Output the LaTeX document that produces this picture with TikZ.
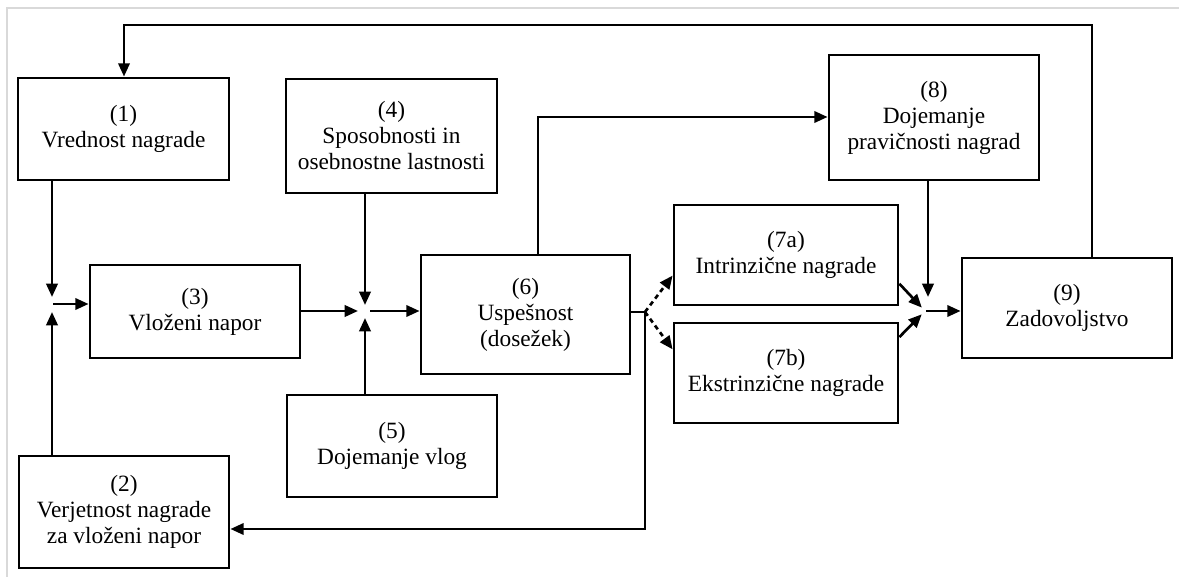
\documentclass[tikz,border=0pt]{standalone}
\usepackage{fontspec}
\setmainfont{Liberation Serif}
\usetikzlibrary{arrows.meta,calc}
\begin{document}
\begin{tikzpicture}[x=0.75pt,y=-0.75pt,
  every node/.style={font=\fontsize{17.5pt}{19.5pt}\selectfont},
  box/.style 2 args={draw, line width=2.1pt, align=center, inner sep=0pt,
    minimum width=#1*0.75pt, minimum height=#2*0.75pt},
  conn/.style={line width=2pt},
  arr/.style={conn, -{Triangle[length=10pt,width=8.5pt]}},
  dsh/.style={arr, dash pattern=on 3.5pt off 2.8pt}]
\useasboundingbox (0,0) rectangle (1179,577);
\draw[black!15, line width=1.5pt] (7,577) -- (7,8) -- (1179,8);

\node[box={211}{102}] (b1) at (123.5,129) {(1)\\Vrednost nagrade};
\node[box={210}{112}] (b2) at (124,512) {(2)\\Verjetnost nagrade\\za vloženi napor};
\node[box={210}{93}] (b3) at (195,311.5) {(3)\\Vloženi napor};
\node[box={211}{114}] (b4) at (391.5,136) {(4)\\Sposobnosti in\\osebnostne lastnosti};
\node[box={210}{102}] (b5) at (392,446) {(5)\\Dojemanje vlog};
\node[box={209}{119}] (b6) at (525.5,314.5) {(6)\\Uspešnost\\(dosežek)};
\node[box={224}{100}] (b7a) at (786,255) {(7a)\\Intrinzične nagrade};
\node[box={224}{100}] (b7b) at (786,373) {(7b)\\Ekstrinzične nagrade};
\node[box={210}{125}] (b8) at (934,117.5) {(8)\\Dojemanje\\pravičnosti nagrad};
\node[box={210}{100}] (b9) at (1067,308) {(9)\\Zadovoljstvo};

\coordinate (c1) at (1092,25);
\coordinate (c2) at (124,25);
\coordinate (j1) at (52,304);
\coordinate (j2) at (365,311);
\coordinate (j3) at (925,311);
\coordinate (k6) at (538,117);
\coordinate (s) at (645,312);
\coordinate (s2) at (645,529);
\coordinate (k8) at (928,297);

% feedback loop from (9) to (1)
\draw[arr] (b9.north -| c1) -- (c1) -- (c2) -- (c2 |- b1.north);

% junction 1
\draw[arr, shorten >=5.25pt] (b1.south -| j1) -- (j1);
\draw[arr, shorten >=6pt] (b2.north -| j1) -- (j1);
\draw[arr, shorten <=1pt] (j1) -- (j1 -| b3.west);

% junction 2
\draw[arr, shorten >=5.25pt] (b3.east |- j2) -- (j2);
\draw[arr, shorten >=4.5pt] (b4.south -| j2) -- (j2);
\draw[arr, shorten >=5.25pt] (b5.north -| j2) -- (j2);
\draw[arr, shorten <=3.75pt] (j2) -- (j2 -| b6.west);

% (6) to (8)
\draw[arr] (b6.north -| k6) -- (k6) -- (k6 -| b8.west);

% (6) to (2)
\draw[arr] (s -| b6.east) -- (s) -- (s2) -- (s2 -| b2.east);

% (6) to (7a), (7b)
\draw[dsh] (s) -- ($(b7a.south west)!0.3!(b7a.north west)$);
\draw[dsh] (s) -- ($(b7b.north west)!0.27!(b7b.south west)$);

% junction 3
\draw[arr] (b8.south -| k8) -- (k8);
\draw[arr, shorten >=3.5pt] ($(b7a.south east)!0.22!(b7a.north east)$) -- (j3);
\draw[arr, shorten >=3.5pt] ($(b7b.north east)!0.15!(b7b.south east)$) -- (j3);
\draw[arr, shorten <=0.75pt] (j3) -- (j3 -| b9.west);
\end{tikzpicture}
\end{document}
